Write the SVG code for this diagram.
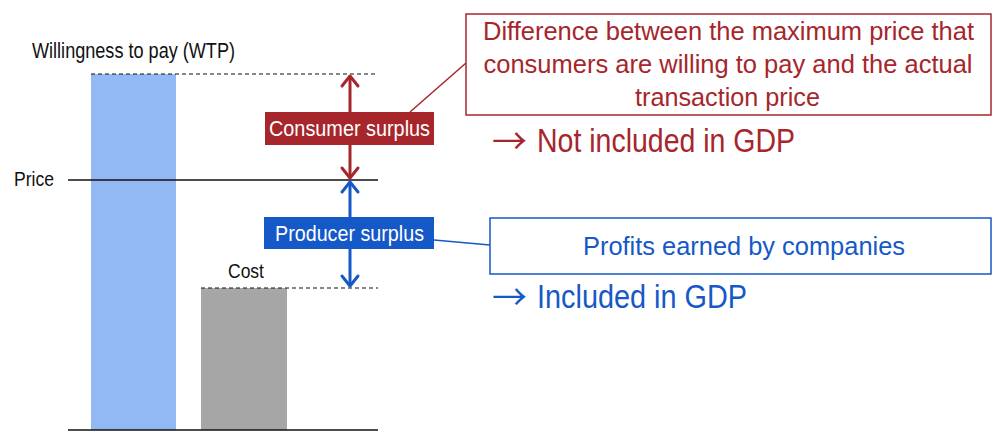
<svg xmlns="http://www.w3.org/2000/svg" width="1000" height="431" viewBox="0 0 1000 431">
<style>
text{font-family:"Liberation Sans Narrow","Liberation Sans",Arial,sans-serif}
text.arr{font-family:"Noto Sans CJK JP","Noto Sans CJK SC",sans-serif}
.lbl{fill:#111}
.dash{stroke:#111;stroke-width:1.2;stroke-dasharray:4 3;fill:none}
.solid{stroke:#111;stroke-width:1.5;fill:none}
.red{fill:#a6262c}
.blue{fill:#1558c8}
.chev{fill:none;stroke-width:3;stroke-linecap:round;stroke-linejoin:round}
</style>
<rect width="1000" height="431" fill="#fff"/>
<g id="bars">
<rect x="91" y="74" width="85" height="356" fill="#93b9f5"/>
<rect x="201" y="288" width="86" height="142" fill="#a6a6a6"/>
</g>
<g id="axes">
<line class="dash" x1="91" y1="74" x2="378" y2="74"/>
<line class="solid" x1="68" y1="180" x2="378" y2="180"/>
<line class="dash" x1="201" y1="288" x2="378" y2="288"/>
<line class="solid" x1="68" y1="430" x2="378" y2="430"/>
</g>
<g id="labels">
<text class="lbl" x="32" y="58" font-size="22" textLength="203" lengthAdjust="spacingAndGlyphs">Willingness to pay (WTP)</text>
<text class="lbl" x="14" y="186" font-size="19.5" textLength="40" lengthAdjust="spacingAndGlyphs">Price</text>
<text class="lbl" x="228" y="278" font-size="19.5" textLength="36" lengthAdjust="spacingAndGlyphs">Cost</text>
</g>
<g id="connectors">
<g stroke="#a6262c">
<line x1="350" y1="76" x2="350" y2="178" stroke-width="3"/>
<polyline class="chev" points="342,86 350,76 358,86"/>
<polyline class="chev" points="342,168 350,178 358,168"/>
<line x1="466" y1="63" x2="410" y2="112" stroke-width="1.5"/>
</g>
<g stroke="#1558c8">
<line x1="350" y1="182" x2="350" y2="286" stroke-width="3"/>
<polyline class="chev" points="342,192 350,182 358,192"/>
<polyline class="chev" points="342,276 350,286 358,276"/>
<line x1="434" y1="240" x2="490" y2="245" stroke-width="1.5"/>
</g>
</g>
<g id="consumer-surplus">
<rect x="265" y="112" width="169" height="33" fill="#a6262c"/>
<text x="349.5" y="136" font-size="22" fill="#fff" text-anchor="middle" textLength="161" lengthAdjust="spacingAndGlyphs">Consumer surplus</text>
</g>
<g id="producer-surplus">
<rect x="264" y="217" width="170" height="32" fill="#1558c8"/>
<text x="349.5" y="241" font-size="22" fill="#fff" text-anchor="middle" textLength="149" lengthAdjust="spacingAndGlyphs">Producer surplus</text>
</g>
<g id="consumer-note">
<rect x="466" y="14" width="525" height="101" fill="#fff" stroke="#a6262c" stroke-width="1.5"/>
<g class="red" font-size="26.5" text-anchor="middle">
<text x="728.5" y="40" textLength="491" lengthAdjust="spacingAndGlyphs">Difference between the maximum price that</text>
<text x="728" y="73" textLength="489" lengthAdjust="spacingAndGlyphs">consumers are willing to pay and the actual</text>
<text x="727.5" y="106" textLength="185" lengthAdjust="spacingAndGlyphs">transaction price</text>
</g>
<text class="red arr" x="492" y="154" font-size="35">→</text>
<text class="red" x="537" y="152" font-size="33" textLength="258" lengthAdjust="spacingAndGlyphs">Not included in GDP</text>
</g>
<g id="producer-note">
<rect x="490" y="218" width="501" height="56" fill="#fff" stroke="#1558c8" stroke-width="1.5"/>
<text class="blue" x="744" y="255" font-size="25" text-anchor="middle" textLength="322" lengthAdjust="spacingAndGlyphs">Profits earned by companies</text>
<text class="blue arr" x="492" y="310" font-size="35">→</text>
<text class="blue" x="537" y="308" font-size="33" textLength="210" lengthAdjust="spacingAndGlyphs">Included in GDP</text>
</g>
</svg>
